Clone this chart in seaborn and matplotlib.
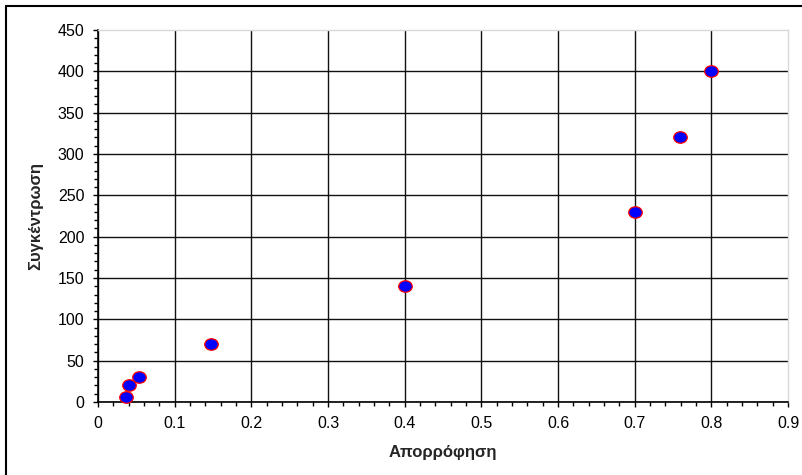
import numpy as np
import pandas as pd
import seaborn as sns
import matplotlib
matplotlib.use("Agg")
import matplotlib.pyplot as plt
from matplotlib.path import Path
from matplotlib.lines import Line2D
from matplotlib.ticker import MultipleLocator, FixedLocator

# Data
absorbance = [0.036, 0.040, 0.054, 0.148, 0.400, 0.700, 0.759, 0.800]
concentration = [6, 20, 30, 70, 140, 230, 320, 400]
x_ticks = [0, 0.1, 0.2, 0.3, 0.4, 0.5, 0.6, 0.7, 0.8, 0.9]
y_ticks = [0, 50, 100, 150, 200, 250, 300, 350, 400, 450]
x_label = "Απορρόφηση"
y_label = "Συγκέντρωση"

df = pd.DataFrame({"x": absorbance, "y": concentration})

sns.set_theme(style="white")
plt.rcParams['font.family'] = ['Liberation Sans', 'DejaVu Sans']

fig = plt.figure(figsize=(8.02, 4.75), dpi=100)
ax = fig.add_axes([98/802, 1-402/475, (788-98)/802, (402-30)/475])

# elliptical marker
circ = Path.unit_circle()
ell = Path(circ.vertices * np.array([1.0, 0.85]), circ.codes)

sns.scatterplot(data=df, x="x", y="y", ax=ax, marker=ell, s=95,
                color="#0000ff", edgecolor="#ff0000", linewidth=0.9, zorder=5,
                clip_on=False)

ax.set_xlim(0, 0.9)
ax.set_ylim(0, 450)
ax.xaxis.set_major_locator(FixedLocator(x_ticks))
ax.yaxis.set_major_locator(FixedLocator(y_ticks))
ax.set_xticklabels([("0" if v == 0 else f"{v:g}") for v in x_ticks])
ax.set_yticklabels([str(v) for v in y_ticks])
ax.xaxis.set_minor_locator(MultipleLocator(0.02))
ax.yaxis.set_minor_locator(MultipleLocator(10))

ax.tick_params(axis="both", which="major", direction="out", length=3.8, width=1,
               color="black", labelsize=11.5, labelcolor="black", pad=6)
ax.tick_params(axis="both", which="minor", direction="out", length=2.6, width=1,
               color="black")
ax.tick_params(axis="x", which="both", bottom=True)
ax.tick_params(axis="y", which="both", left=True)

ax.grid(True, which="major", color="#111111", linewidth=1.0)
ax.set_axisbelow(True)
ax.xaxis.get_major_ticks()[-1].gridline.set_visible(False)
ax.yaxis.get_major_ticks()[-1].gridline.set_visible(False)

for s in ["left", "bottom"]:
    ax.spines[s].set_color("black")
    ax.spines[s].set_linewidth(1.2)
for s in ["top", "right"]:
    ax.spines[s].set_color("#d9d9d9")
    ax.spines[s].set_linewidth(1.0)

ax.set_xlabel(x_label, fontsize=12, fontweight="bold", labelpad=10)
ax.set_ylabel(y_label, fontsize=12, fontweight="bold", labelpad=10)

# outer frame (only top and left edges are inside the picture)
fig.add_artist(Line2D([6/802, 1.0], [1-6/475, 1-6/475], transform=fig.transFigure,
                      color="black", linewidth=1.5))
fig.add_artist(Line2D([6/802, 6/802], [0.0, 1-6/475], transform=fig.transFigure,
                      color="black", linewidth=1.5))

fig.savefig("out.png", dpi=100)
